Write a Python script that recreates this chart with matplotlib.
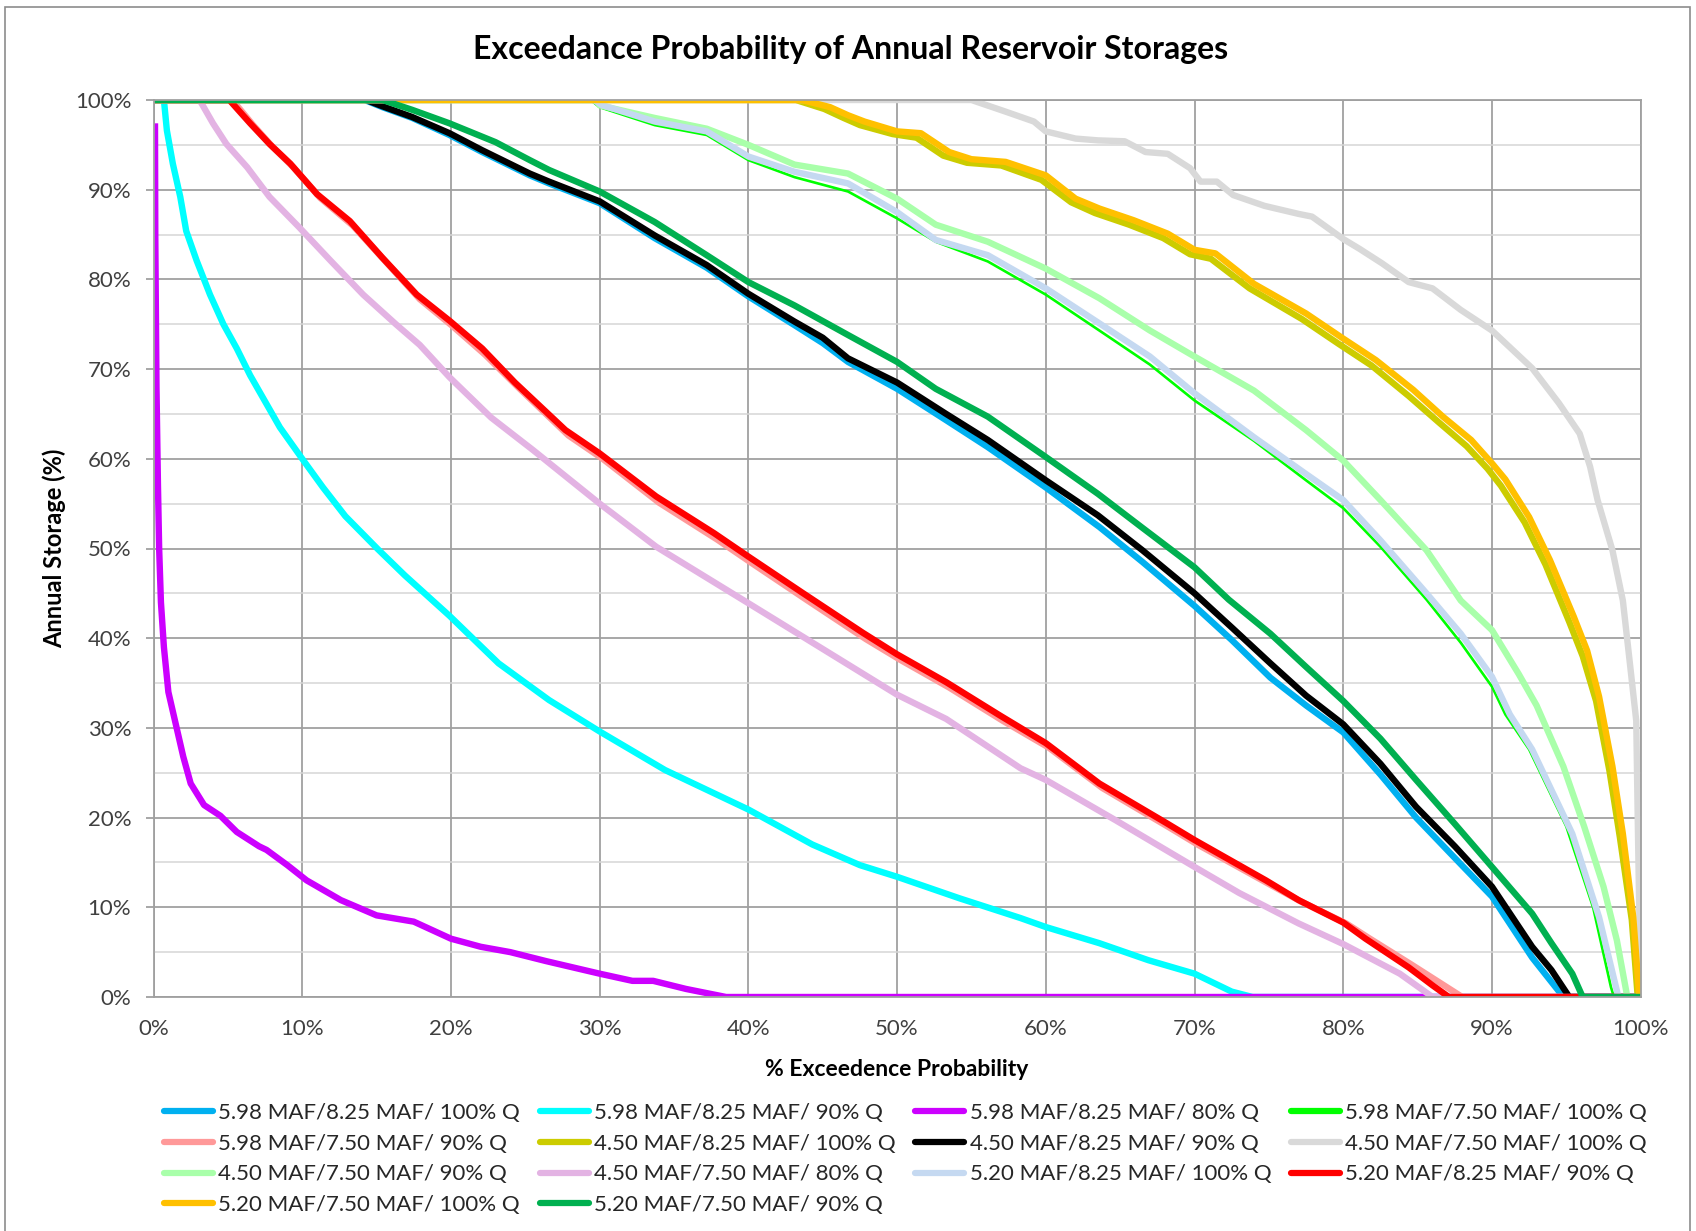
import matplotlib
matplotlib.use("Agg")

import numpy as np
from matplotlib import pyplot as plt
from matplotlib.patches import Rectangle
from matplotlib.ticker import MultipleLocator, PercentFormatter

plt.rcParams['font.family'] = ['Lato', 'DejaVu Sans']

# exceedance curves, x = % exceedance, y = % storage
s598_825_100_x = [0, 14.2, 15.4, 17.4, 19.9, 22.1, 25.3, 26.6, 30, 33.7, 37.2, 40, 43.1, 45, 46.7, 50, 53.3, 56.1, 60, 63.6, 66.5, 70, 72.5, 75.1, 77.5, 80, 82.5, 84.9, 87.5, 90, 92.7, 94.8, 100]
s598_825_100_y = [100, 100, 99.2, 98.0, 96.1, 94.2, 91.6, 90.7, 88.5, 84.6, 81.3, 78.1, 74.9, 72.9, 70.8, 67.8, 64.3, 61.3, 56.8, 52.4, 48.5, 43.6, 39.8, 35.6, 32.5, 29.5, 24.8, 20.0, 15.5, 11.2, 4.4, 0, 0]

s598_825_90_x = [0, 0.7, 0.9, 1.3, 1.8, 2.2, 2.9, 3.8, 4.7, 5.6, 6.5, 8.5, 10, 11.4, 12.9, 15.1, 16.9, 18.7, 19.9, 23.2, 26.6, 30, 34.4, 40, 44.3, 47.5, 50, 54.2, 58.3, 60, 63.6, 66.9, 70, 72.5, 73.9, 100]
s598_825_90_y = [100, 100, 96.6, 92.9, 89.2, 85.4, 82.1, 78.3, 75, 72.3, 69.3, 63.5, 60, 56.8, 53.6, 49.9, 47.0, 44.3, 42.5, 37.2, 33.1, 29.6, 25.3, 20.9, 17, 14.7, 13.4, 11, 8.8, 7.8, 6, 4.1, 2.6, 0.6, 0, 0]

s598_825_80_x = [0.1, 0.12, 0.2, 0.3, 0.38, 0.5, 0.7, 1.0, 1.5, 2.0, 2.5, 3.4, 4.5, 5.6, 7.1, 7.6, 9, 10.3, 12.6, 15, 17.5, 20, 22, 24, 26.4, 30, 32.2, 33.6, 35.8, 38.5, 100]
s598_825_80_y = [97.4, 85, 68, 57, 50, 44, 39, 34, 30.4, 26.8, 23.8, 21.4, 20.2, 18.4, 16.8, 16.4, 14.7, 13, 10.8, 9.1, 8.4, 6.5, 5.6, 5.0, 4.0, 2.6, 1.8, 1.8, 0.9, 0, 0]

s598_750_100_x = [0, 29.4, 30, 33.7, 37.2, 40, 43.1, 46.7, 50, 52.6, 56.1, 60, 63.6, 67, 70, 74, 77.5, 80, 82.5, 85.6, 87.9, 90, 90.9, 92.5, 95, 96.8, 98, 98.2, 100]
s598_750_100_y = [100, 100, 99.2, 97.2, 96.1, 93.3, 91.4, 89.8, 86.8, 84.2, 82, 78.3, 74.3, 70.5, 66.5, 62.0, 57.6, 54.5, 50.2, 44.3, 39.5, 34.6, 31.5, 27.6, 19, 10, 1.1, 0, 0]

s598_750_90_x = [0, 5.3, 6.7, 8, 9.4, 11.2, 13.4, 15.6, 17.9, 20.1, 22.3, 24.5, 27.9, 30.2, 34, 37.9, 40.2, 43.8, 47.9, 50.2, 53.5, 57.1, 60.2, 63.8, 68.3, 70.2, 75, 77.2, 80.2, 81.7, 84.6, 86.3, 88, 100]
s598_750_90_y = [100, 100, 97.2, 94.8, 92.5, 89.1, 86.0, 82.0, 77.8, 74.8, 71.6, 68.0, 62.6, 60.0, 55.1, 51.0, 48.4, 44.4, 39.9, 37.6, 34.5, 30.8, 27.8, 23.3, 18.9, 17.0, 12.6, 10.6, 8.2, 6.6, 3.6, 1.8, 0, 0]

s450_825_100_x = [0, 43.2, 45.1, 46.4, 47.5, 49.7, 51.3, 53.1, 54.7, 57, 59.7, 61.7, 63.3, 65.6, 67.9, 69.7, 71.1, 73.7, 77.2, 79.7, 81.9, 84.4, 86.4, 88.3, 89.7, 90.6, 92.2, 93.6, 95.2, 96.1, 97.0, 97.9, 98.6, 99.4, 99.8, 100]
s450_825_100_y = [100, 100, 99.0, 98.0, 97.2, 96.2, 95.8, 93.8, 93.0, 92.7, 91.1, 88.6, 87.4, 86.1, 84.6, 82.8, 82.3, 79.0, 75.6, 72.8, 70.4, 67.0, 64.1, 61.4, 58.9, 57.0, 52.9, 48.2, 41.8, 38.0, 33.0, 25.2, 17.8, 8.6, 0, 0]

s450_825_90_x = [0, 14.3, 15.4, 17.4, 19.9, 22.1, 25.3, 26.6, 30, 33.7, 37.2, 40, 43.1, 45, 46.7, 50, 53.3, 56.1, 60, 63.5, 66.5, 70, 72.5, 75.1, 77.5, 80, 82.5, 84.9, 87.5, 90, 92.7, 94.0, 95.2, 100]
s450_825_90_y = [100, 100, 99.3, 98.1, 96.3, 94.4, 91.8, 90.9, 88.7, 84.9, 81.6, 78.4, 75.3, 73.5, 71.2, 68.5, 65.0, 62.1, 57.6, 53.7, 49.8, 45.0, 41.2, 37.2, 33.6, 30.4, 26.0, 21.2, 16.8, 12.3, 5.6, 3.0, 0, 0]

s450_750_100_x = [0, 55, 57.3, 59.2, 60, 62, 63.5, 65.3, 66.7, 68.2, 69.7, 70.4, 71.5, 72.6, 74.7, 77, 77.9, 80, 81.1, 82.6, 84.4, 86, 87.9, 90, 92.7, 94.5, 95.9, 96.6, 97.1, 98.1, 98.8, 99.3, 99.7, 99.8, 99.9, 100]
s450_750_100_y = [100, 100, 98.7, 97.6, 96.5, 95.7, 95.5, 95.4, 94.2, 94, 92.4, 90.9, 90.9, 89.4, 88.2, 87.3, 87, 84.5, 83.4, 81.8, 79.7, 79, 76.6, 74.3, 70.1, 66.2, 62.8, 59.1, 55.4, 49.8, 44.2, 36.8, 30.8, 20, 10, 0]

s450_750_90_x = [0, 29.8, 30, 33.7, 37.2, 40, 43.1, 46.7, 50, 52.6, 56.1, 60, 63.6, 67, 70, 74, 77.5, 80, 82.5, 85.6, 87.9, 90, 91.8, 93, 94.8, 96.2, 97.5, 98.4, 99.1, 100]
s450_750_90_y = [100, 100, 99.4, 98, 96.8, 95, 92.8, 91.8, 89, 86.1, 84.2, 81.2, 77.9, 74.3, 71.4, 67.6, 63.2, 59.8, 55.4, 49.8, 44.2, 40.9, 36, 32.5, 25.7, 19, 12.3, 6.3, 0, 0]

s450_750_80_x = [0, 3.1, 4, 4.9, 6.3, 7.8, 9.8, 11.9, 14.1, 16.3, 17.9, 19.9, 22.7, 25.5, 30, 33.8, 40, 45, 50, 53.3, 58.3, 60, 64.7, 70, 73, 77, 80, 83.8, 86, 100]
s450_750_80_y = [100, 100, 97.4, 95.1, 92.5, 89.2, 85.8, 82.1, 78.3, 75, 72.7, 69.1, 64.6, 61, 55, 50.2, 43.9, 38.8, 33.7, 31.0, 25.5, 24.2, 19.7, 14.5, 11.6, 8.2, 5.9, 2.6, 0, 0]

s520_825_100_x = [0, 29.6, 30.2, 33.7, 37.2, 40, 43.1, 46.7, 50, 52.6, 56.1, 60, 63.6, 67, 70, 74, 77.5, 80, 82.5, 85.6, 87.9, 90, 91.2, 92.7, 95.4, 97.2, 98.5, 100]
s520_825_100_y = [100, 100, 99.4, 97.6, 96.5, 93.7, 92, 90.7, 87.5, 84.4, 82.7, 79, 75.1, 71.4, 67.3, 62.4, 58.3, 55.4, 50.9, 45, 40.5, 35.7, 31.5, 27.6, 18.2, 8.9, 0, 0]

s520_825_90_x = [0, 5.1, 6.5, 7.8, 9.2, 11, 13.2, 15.4, 17.7, 19.9, 22.1, 24.3, 27.7, 30, 33.8, 37.7, 40, 43.6, 47.7, 50, 53.3, 56.9, 60, 63.6, 68.1, 70, 74.8, 77, 80, 81.5, 84.4, 86, 87.1, 100]
s520_825_90_y = [100, 100, 97.4, 95.1, 92.9, 89.5, 86.5, 82.4, 78.3, 75.4, 72.3, 68.5, 63.2, 60.6, 55.8, 51.7, 49.1, 45.1, 40.6, 38.2, 35.1, 31.4, 28.3, 23.8, 19.4, 17.5, 13.0, 10.8, 8.3, 6.5, 3.3, 1.3, 0, 0]

s520_750_100_x = [0, 43.6, 45.5, 46.7, 47.8, 50, 51.6, 53.5, 55, 57.3, 60, 62, 63.6, 65.9, 68.2, 70, 71.4, 74, 77.5, 80, 82.2, 84.7, 86.7, 88.6, 90, 90.9, 92.5, 93.9, 95.5, 96.4, 97.2, 98.1, 98.8, 99.5, 99.9, 100]
s520_750_100_y = [100, 100, 99.2, 98.3, 97.6, 96.5, 96.3, 94.2, 93.4, 93.1, 91.6, 89, 87.9, 86.6, 85.1, 83.3, 82.9, 79.5, 76.2, 73.4, 71, 67.7, 64.7, 62.1, 59.5, 57.7, 53.5, 48.7, 42.4, 38.6, 33.5, 25.7, 18.2, 8.9, 0.1, 0]

s520_750_90_x = [0, 15.4, 17.4, 19.9, 23, 25.3, 26.6, 30, 33.7, 37.2, 40, 43.1, 46.7, 50, 52.6, 56.1, 60, 63.5, 66.5, 70, 72.3, 75.1, 77.5, 80, 82.5, 84.9, 87.5, 90, 92.7, 94, 95.4, 96.1, 100]
s520_750_90_y = [100, 100, 98.9, 97.4, 95.3, 93.3, 92.2, 89.8, 86.4, 82.7, 79.7, 77.1, 73.8, 70.8, 67.8, 64.7, 60.2, 56.1, 52.3, 47.9, 44.3, 40.5, 36.8, 33.0, 28.8, 24.2, 19.3, 14.5, 9.3, 6.0, 2.6, 0, 0]

labels = [
    "5.98 MAF/8.25 MAF/ 100% Q", "5.98 MAF/8.25 MAF/ 90% Q", "5.98 MAF/8.25 MAF/ 80% Q",
    "5.98 MAF/7.50 MAF/ 100% Q", "5.98 MAF/7.50 MAF/ 90% Q", "4.50 MAF/8.25 MAF/ 100% Q",
    "4.50 MAF/8.25 MAF/ 90% Q", "4.50 MAF/7.50 MAF/ 100% Q", "4.50 MAF/7.50 MAF/ 90% Q",
    "4.50 MAF/7.50 MAF/ 80% Q", "5.20 MAF/8.25 MAF/ 100% Q", "5.20 MAF/8.25 MAF/ 90% Q",
    "5.20 MAF/7.50 MAF/ 100% Q", "5.20 MAF/7.50 MAF/ 90% Q",
]

series = [
    (s598_825_100_x, s598_825_100_y), (s598_825_90_x, s598_825_90_y), (s598_825_80_x, s598_825_80_y),
    (s598_750_100_x, s598_750_100_y), (s598_750_90_x, s598_750_90_y), (s450_825_100_x, s450_825_100_y),
    (s450_825_90_x, s450_825_90_y), (s450_750_100_x, s450_750_100_y), (s450_750_90_x, s450_750_90_y),
    (s450_750_80_x, s450_750_80_y), (s520_825_100_x, s520_825_100_y), (s520_825_90_x, s520_825_90_y),
    (s520_750_100_x, s520_750_100_y), (s520_750_90_x, s520_750_90_y),
]

colors = ['#00B0F0', '#00FFFF', '#CC00FF', '#00FF00', '#FF9999', '#CCCC00', '#000000',
          '#D9D9D9', '#A9FFAA', '#E3B3E3', '#C5D9F1', '#FF0000', '#FFC000', '#00B050']
widths = [4.6, 4.6, 4.6, 1.9, 4.6, 4.6, 4.6, 4.6, 4.6, 4.6, 4.6, 4.6, 4.6, 4.6]

W, H = 1696, 1231
fig = plt.figure(figsize=(W / 100, H / 100), dpi=100)
ax = fig.add_axes([153.5 / W, 1 - 997 / H, (1640.7 - 153.5) / W, (997 - 100) / H])

handles = []
for (xs, ys), c, lw in zip(series, colors, widths):
    ln, = ax.plot(xs, ys, color=c, lw=lw, solid_joinstyle='round', solid_capstyle='butt')
    handles.append(ln)

ax.set_xlim(0, 100)
ax.set_ylim(0, 100)
ax.xaxis.set_major_locator(MultipleLocator(10))
ax.yaxis.set_major_locator(MultipleLocator(10))
ax.yaxis.set_minor_locator(MultipleLocator(5))
ax.xaxis.set_major_formatter(PercentFormatter(decimals=0))
ax.yaxis.set_major_formatter(PercentFormatter(decimals=0))
ax.set_axisbelow(True)
ax.grid(which='major', color='#a0a0a0', lw=1.3)
ax.grid(which='minor', axis='y', color='#d6d6d6', lw=1.1)
for sp in ax.spines.values():
    sp.set_color('#a0a0a0')
    sp.set_linewidth(1.3)
ax.tick_params(axis='y', which='major', length=6, color='#a0a0a0', width=1.3,
               pad=10, labelsize=16, labelcolor='#404040')
ax.tick_params(axis='y', which='minor', length=0)
ax.tick_params(axis='x', length=0, pad=16, labelsize=16, labelcolor='#404040')

fig.text(851 / W, 1 - 49 / H, "Exceedance Probability of Annual Reservoir Storages",
         ha='center', va='center', fontsize=23, fontweight='bold')
fig.text(54 / W, 1 - 548 / H, "Annual Storage (%)", rotation=90,
         ha='center', va='center', fontsize=17, fontweight='bold')
fig.text(897 / W, 1 - 1069 / H, "% Exceedence Probability",
         ha='center', va='center', fontsize=16.5, fontweight='bold')

# legend reads row by row, matplotlib fills columns first
order = [0, 4, 8, 12, 1, 5, 9, 13, 2, 6, 10, 3, 7, 11]
leg = fig.legend([handles[i] for i in order], [labels[i] for i in order],
                 loc='upper left', bbox_to_anchor=(164 / W, 1 - 1103 / H),
                 ncol=4, frameon=False, fontsize=16, handlelength=2.2,
                 handletextpad=0.25, columnspacing=0.88, labelspacing=0.48,
                 borderpad=0, borderaxespad=0)
for t in leg.get_texts():
    t.set_color('#262626')
for ln in leg.get_lines():
    ln.set_linewidth(4.5)
    ln.set_solid_capstyle('round')

# chart area border
fig.add_artist(Rectangle((5 / W, -0.05), (1690 - 5) / W, 1.05 - 7 / H,
                         transform=fig.transFigure, fill=False,
                         edgecolor='#8c8c8c', lw=1.2))

fig.savefig('out.png', dpi=100)
